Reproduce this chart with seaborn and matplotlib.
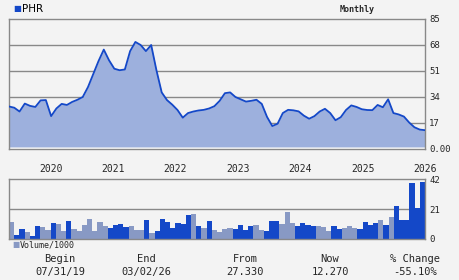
import matplotlib
matplotlib.use("Agg")
import matplotlib.pyplot as plt
import seaborn as sns
import pandas as pd

ticker = "PHR"
period = "Monthly"

price = [27.8, 27.0, 24.5, 29.7, 28.2, 27.5, 31.8, 32.0, 21.5, 26.5,
         29.5, 28.8, 30.8, 32.2, 34.0, 40.5, 49.0, 57.5, 65.0, 58.0,
         52.5, 51.5, 52.0, 64.0, 70.0, 68.0, 64.0, 68.0, 51.5, 37.0,
         32.0, 29.0, 25.5, 20.5, 23.5, 24.5, 25.2, 25.6, 26.5, 28.0,
         31.5, 36.5, 37.0, 34.0, 32.5, 31.0, 31.5, 32.2, 29.5, 21.0,
         15.0, 16.5, 23.5, 25.6, 25.3, 24.6, 21.8, 19.8, 21.5, 24.5,
         26.3, 23.5, 18.8, 20.8, 25.5, 28.5, 27.5, 26.0, 25.5, 25.4,
         28.8, 27.3, 32.5, 23.5, 22.6, 21.2, 17.3, 14.2, 12.7, 12.3]

volume = [12.2, 2.8, 7.0, 4.9, 2.0, 9.2, 8.5, 6.3, 11.3, 10.6,
          5.6, 12.7, 7.0, 5.6, 9.9, 14.1, 5.6, 12.0, 9.2, 7.7,
          9.9, 10.6, 8.5, 9.2, 6.3, 6.3, 13.4, 4.2, 5.6, 14.1,
          12.0, 7.7, 11.3, 10.6, 16.9, 17.6, 9.2, 7.7, 12.7, 6.3,
          4.9, 7.0, 7.7, 7.0, 9.9, 6.3, 9.2, 9.9, 6.3, 5.6,
          12.7, 12.7, 10.6, 19.0, 11.3, 9.2, 11.3, 9.9, 9.2, 9.2,
          8.5, 5.6, 9.2, 7.0, 7.7, 9.2, 7.7, 7.0, 12.0, 9.9,
          11.3, 13.4, 9.9, 15.5, 23.2, 13.4, 13.4, 39.4, 21.8, 40.1]

bar_kind = list("lddlddlldl"
                "ldllllllld"
                "dddllldldd"
                "dddddldldl"
                "lllddddlld"
                "ddlllddddl"
                "llddlllddd"
                "dldldddddd")

years = ["2020", "2021", "2022", "2023", "2024", "2025", "2026"]
year_pos = [7.5, 19.5, 31.5, 43.5, 55.5, 67.5, 79.5]
price_ticks = [0, 17, 34, 51, 68, 85]
price_ticklabels = ["0.00", "17", "34", "51", "68", "85"]
vol_ticks = [0, 21, 42]

footer_heads = ["Begin", "End", "From", "Now", "% Change"]
footer_vals = ["07/31/19", "03/02/26", "27.330", "12.270", "-55.10%"]

BG = "#f3f3f3"
GRID = "#888888"
DARK = "#1448c8"
LIGHT = "#8899c4"
FILL = "#9db0dd"
MONO = "DejaVu Sans Mono"

sns.set_style("white")
plt.rcParams["font.family"] = ["DejaVu Sans"]

W, H = 460, 280
fig = plt.figure(figsize=(W / 100, H / 100), dpi=100, facecolor=BG)

# ---- price panel ----
axp = fig.add_axes([9 / W, 1 - 149 / H, 416 / W, 130 / H])
axp.set_facecolor(BG)
idx = list(range(len(price)))
df_p = pd.DataFrame({"m": idx, "p": price})
axp.fill_between(df_p["m"], 1.3, df_p["p"], color=FILL, lw=0, zorder=1)
axp.axhline(0.8, color="white", lw=1, zorder=1)
for g in price_ticks[1:-1]:
    axp.axhline(g, color=GRID, lw=1, zorder=0.5)
sns.lineplot(data=df_p, x="m", y="p", ax=axp, color=DARK, lw=1.3, zorder=3)
axp.set_xlim(0, len(price) - 1)
axp.set_ylim(0, 85)
axp.set_xlabel("")
axp.set_ylabel("")
axp.set_xticks([])
axp.yaxis.tick_right()
axp.set_yticks(price_ticks)
axp.set_yticklabels(price_ticklabels, family=MONO, fontsize=6.5)
axp.tick_params(axis="y", length=0, pad=3)
for s in axp.spines.values():
    s.set_color(GRID)
    s.set_linewidth(1)

# ---- volume panel ----
axv = fig.add_axes([9 / W, 1 - 239 / H, 416 / W, 59.7 / H])
axv.set_facecolor(BG)
df_v = pd.DataFrame({"m": [str(i) for i in range(len(volume))],
                     "v": volume, "k": bar_kind})
axv.axhline(21, color=GRID, lw=1, zorder=0.5)
sns.barplot(data=df_v, x="m", y="v", hue="k", ax=axv,
            palette={"d": DARK, "l": LIGHT}, hue_order=["d", "l"],
            dodge=False, width=1.0, saturation=1, legend=False,
            linewidth=0, zorder=2)
axv.set_xlim(-0.5, len(volume) - 0.5)
axv.set_ylim(0, 42)
axv.set_xlabel("")
axv.set_ylabel("")
axv.xaxis.tick_top()
axv.set_xticks(year_pos)
axv.set_xticklabels(years, family=MONO, fontsize=7)
axv.tick_params(axis="x", length=0, pad=4)
axv.yaxis.tick_right()
axv.set_yticks(vol_ticks)
axv.set_yticklabels([str(t) for t in vol_ticks], family=MONO, fontsize=6.5)
axv.tick_params(axis="y", length=0, pad=3)
for s in axv.spines.values():
    s.set_color(GRID)
    s.set_linewidth(1)

# ---- header ----
fig.text(13 / W, 1 - 9 / H, "\u25A0", color=DARK, fontsize=6, va="center", ha="left")
fig.text(22 / W, 1 - 9 / H, ticker, color="black", fontsize=7.5, va="center", ha="left")
fig.text(357 / W, 1 - 9 / H, period, family=MONO, fontsize=6, fontweight="bold",
         va="center", ha="center")

# ---- volume legend ----
fig.text(12 / W, 1 - 245 / H, "\u25A0", color=LIGHT, fontsize=5.5, va="center", ha="left")
fig.text(20 / W, 1 - 245 / H, "Volume/1000", family=MONO, fontsize=6, va="center", ha="left")

# ---- footer ----
foot_x = [60, 146, 245, 330, 415]
for x, h, v in zip(foot_x, footer_heads, footer_vals):
    fig.text(x / W, 1 - 259 / H, h, family=MONO, fontsize=7.5, va="center", ha="center")
    fig.text(x / W, 1 - 272 / H, v, family=MONO, fontsize=7.5, va="center", ha="center")

fig.savefig("out.png", dpi=100, facecolor=BG)
